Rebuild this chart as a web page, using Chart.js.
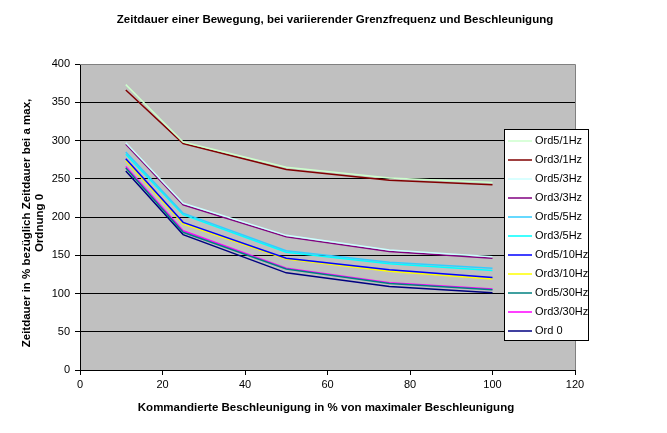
<!DOCTYPE html>
<html>
<head>
<meta charset="utf-8">
<script src="https://cdn.jsdelivr.net/npm/chart.js@4"></script>
<style>
  html, body { margin: 0; padding: 0; background: #fff; }
  #wrap { width: 667px; height: 433px; position: relative; }
</style>
</head>
<body>
<div id="wrap"><canvas id="graph" width="667" height="433"></canvas></div>
<script>
const graphRef = document.getElementById('graph');

// x positions (% of max acceleration)
const accel = [11.1, 25, 50, 75, 100];

const seriesNames = [
  'Ord5/1Hz', 'Ord3/1Hz', 'Ord5/3Hz', 'Ord3/3Hz', 'Ord5/5Hz', 'Ord3/5Hz',
  'Ord5/10Hz', 'Ord3/10Hz', 'Ord5/30Hz', 'Ord3/30Hz', 'Ord 0'
];
const seriesColors = [
  '#CCFFCC', '#800000', '#CCFFFF', '#800080', '#33CCFF', '#00FFFF',
  '#0000FF', '#FFFF00', '#008080', '#FF00FF', '#000080'
];

const ord5_1Hz = [373, 298, 265, 251, 245];
const ord3_1Hz = [366, 296, 262, 248, 242];
const ord5_3Hz = [297, 218, 176, 157, 148];
const ord3_3Hz = [295, 216, 174, 155, 146];
const ord5_5Hz = [285, 205, 156, 141, 133];
const ord3_5Hz = [282, 203, 154, 139, 130];
const ord5_10Hz = [276, 193, 146, 131, 121];
const ord3_10Hz = [274, 191, 145, 129, 119];
const ord5_30Hz = [264, 180, 132, 113, 105];
const ord3_30Hz = [266, 182, 133, 114, 106];
const ord0 = [260, 177, 127, 109, 101];

const seriesValues = [
  ord5_1Hz, ord3_1Hz, ord5_3Hz, ord3_3Hz, ord5_5Hz, ord3_5Hz,
  ord5_10Hz, ord3_10Hz, ord5_30Hz, ord3_30Hz, ord0
];

const xTicks = [0, 20, 40, 60, 80, 100, 120];
const yTicks = [0, 50, 100, 150, 200, 250, 300, 350, 400];

const chartTitle = 'Zeitdauer einer Bewegung, bei variierender Grenzfrequenz und Beschleunigung';
const xTitle = 'Kommandierte Beschleunigung in % von maximaler Beschleunigung';
const yTitle = ['Zeitdauer in % bezüglich Zeitdauer bei a max,', 'Ordnung 0'];

const FONT = '"Liberation Sans", Arial, sans-serif';

const datasets = seriesNames.map((name, i) => ({
  label: name,
  data: accel.map((x, j) => ({ x: x, y: seriesValues[i][j] })),
  borderColor: seriesColors[i],
  backgroundColor: seriesColors[i],
  borderWidth: 1.5,
  pointRadius: 0,
  tension: 0,
  fill: false,
}));

// grey plot area, borders, titles and the boxed legend
const excelLook = {
  id: 'excelLook',
  beforeDraw(chart) {
    const { ctx, chartArea: a } = chart;
    ctx.save();
    ctx.fillStyle = '#fff';
    ctx.fillRect(0, 0, chart.width, chart.height);
    ctx.fillStyle = '#C0C0C0';
    ctx.fillRect(a.left, a.top, a.right - a.left, a.bottom - a.top);
    ctx.restore();
  },
  afterDraw(chart) {
    const { ctx, chartArea: a } = chart;
    ctx.save();
    // right / top border grey
    ctx.strokeStyle = '#808080';
    ctx.lineWidth = 1;
    ctx.beginPath();
    ctx.moveTo(a.left, a.top + 0.5);
    ctx.lineTo(a.right + 0.5, a.top + 0.5);
    ctx.lineTo(a.right + 0.5, a.bottom);
    ctx.stroke();

    ctx.fillStyle = '#000';
    ctx.font = 'bold 11.5px ' + FONT;
    ctx.textAlign = 'center';
    ctx.textBaseline = 'middle';
    ctx.fillText(chartTitle, 335, 20);
    ctx.fillText(xTitle, 326, 408);

    ctx.save();
    ctx.translate(27, 223);
    ctx.rotate(-Math.PI / 2);
    ctx.fillText(yTitle[0], 0, 0);
    ctx.fillText(yTitle[1], 0, 13);
    ctx.restore();

    // legend
    const lx = 504, ly = 129, lw = 84, lh = 211;
    ctx.fillStyle = '#fff';
    ctx.fillRect(lx, ly, lw, lh);
    ctx.strokeStyle = '#000';
    ctx.strokeRect(lx + 0.5, ly + 0.5, lw, lh);
    ctx.font = '11px ' + FONT;
    ctx.textAlign = 'left';
    chart.data.datasets.forEach((ds, i) => {
      const y = 141 + i * 19;
      ctx.strokeStyle = ds.borderColor;
      ctx.lineWidth = 1.5;
      ctx.beginPath();
      ctx.moveTo(508, y);
      ctx.lineTo(532, y);
      ctx.stroke();
      ctx.fillStyle = '#000';
      ctx.fillText(ds.label, 535, y);
    });
    ctx.restore();
  }
};

new Chart(graphRef, {
  type: 'line',
  data: { datasets: datasets },
  plugins: [excelLook],
  options: {
    responsive: false,
    animation: false,
    layout: { padding: { left: 0, top: 64, right: 92, bottom: 0 } },
    plugins: { legend: { display: false }, tooltip: { enabled: false } },
    scales: {
      x: {
        type: 'linear',
        min: 0,
        max: 120,
        afterFit(scale) { scale.height = 63; },
        afterBuildTicks(scale) { scale.ticks = xTicks.map(v => ({ value: v })); },
        grid: {
          drawOnChartArea: false,
          drawTicks: true,
          tickLength: 5,
          tickColor: '#000',
        },
        border: { color: '#000', width: 1 },
        ticks: {
          color: '#000',
          font: { family: FONT, size: 11 },
          padding: 3,
          maxRotation: 0,
        },
      },
      y: {
        type: 'linear',
        min: 0,
        max: 400,
        afterFit(scale) { scale.width = 80; },
        afterBuildTicks(scale) { scale.ticks = yTicks.map(v => ({ value: v })); },
        grid: {
          color: ctx => (ctx.tick && ctx.tick.value === 400 ? '#808080' : '#000'),
          tickColor: '#000',
          tickLength: 5,
          lineWidth: 1,
        },
        border: { color: '#000', width: 1 },
        ticks: {
          color: '#000',
          font: { family: FONT, size: 11 },
          padding: 5,
        },
      },
    },
  },
});
</script>
</body>
</html>
